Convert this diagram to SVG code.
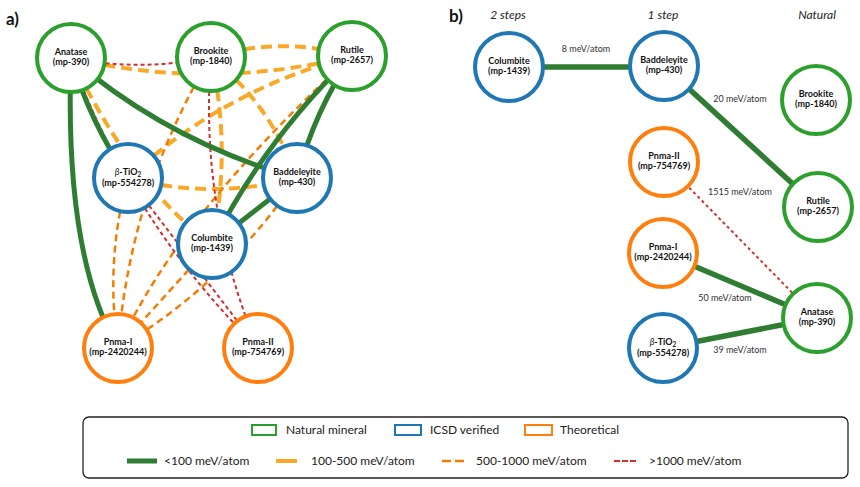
<svg xmlns="http://www.w3.org/2000/svg" width="860" height="487" viewBox="0 0 860 487">
<style>
text{font-family:Lato,"Liberation Sans",sans-serif;fill:#111}
.nl{font-size:9px;font-weight:bold;text-anchor:middle}
.el{font-size:9px;fill:#333;text-anchor:middle}
.hd{font-size:12px;font-style:italic;fill:#222;text-anchor:middle}
.pl{font-size:17px;font-weight:bold}
.lg{font-size:12px;fill:#222}
.nat{fill:#fff;stroke:#2ca02c;stroke-width:4}
.icsd{fill:#fff;stroke:#1f77b4;stroke-width:4}
.theo{fill:#fff;stroke:#ff7f0e;stroke-width:4}
.g{fill:none;stroke:#2e7d32;stroke-width:5}
.gb{fill:none;stroke:#2e7d32;stroke-width:5.5}
.y{fill:none;stroke:#f9a828;stroke-width:4;stroke-dasharray:11 6}
.o{fill:none;stroke:#f57c00;stroke-width:2.5;stroke-dasharray:7 4.5}
.r{fill:none;stroke:#d32f2f;stroke-width:2;stroke-dasharray:4 3}
.rb{fill:none;stroke:#d32f2f;stroke-width:2;stroke-dasharray:3 3}
</style>
<text class="pl" x="6" y="25">a)</text>
<text class="pl" x="449" y="22">b)</text>
<text class="hd" x="508" y="19">2 steps</text>
<text class="hd" x="663" y="19">1 step</text>
<text class="hd" x="817" y="19">Natural</text>
<g id="connectors">
<path class="y" d="M71,58 Q211,91 352,56"/>
<path class="y" d="M211,57 Q281,36 352,56"/>
<path class="y" d="M71,58 Q135,190 212,244"/>
<path class="y" d="M128,178 Q225,89 352,56"/>
<path class="y" d="M211,57 Q271,105 297,178"/>
<path class="y" d="M211,57 Q232,150 212,244"/>
<path class="y" d="M128,178 Q212,200 297,178"/>
<path class="o" d="M211,57 Q130,191 118,348"/>
<path class="o" d="M128,178 Q105,260 118,348"/>
<path class="o" d="M352,56 Q180,212 118,348"/>
<path class="o" d="M212,244 L118,348"/>
<path class="o" d="M297,178 Q227,283 118,348"/>
<path class="r" d="M71,58 Q141,72 211,57"/>
<path class="r" d="M71,58 Q132,224 258,348"/>
<path class="r" d="M128,178 L258,348"/>
<path class="r" d="M211,57 Q199,208 258,348"/>
<path class="g" d="M71,58 Q64,255 118,348"/>
<path class="g" d="M71,58 Q90,122 128,178"/>
<path class="g" d="M71,58 Q171,143 297,178"/>
<path class="g" d="M352,56 Q266,138 212,244"/>
<path class="g" d="M352,56 Q314,112 297,178"/>
<path class="g" d="M297,178 L212,244"/>
<path class="gb" d="M509,67 L664,67"/>
<path class="gb" d="M664,66 L818,207"/>
<path class="rb" d="M664,162 L817,318"/>
<path class="gb" d="M663,253 L817,318"/>
<path class="gb" d="M663,348 L817,318"/>
<text class="el" x="586" y="52">8 meV/atom</text>
<text class="el" x="740" y="102">20 meV/atom</text>
<text class="el" x="740" y="195">1515 meV/atom</text>
<text class="el" x="725" y="301">50 meV/atom</text>
<text class="el" x="740" y="353">39 meV/atom</text>
</g>
<g id="a-anatase"><circle class="nat" cx="71" cy="58" r="34"/><text class="nl" x="71" y="55">Anatase</text><text class="nl" x="71" y="65">(mp-390)</text></g>
<g id="a-brookite"><circle class="nat" cx="211" cy="57" r="34"/><text class="nl" x="211" y="54">Brookite</text><text class="nl" x="211" y="64">(mp-1840)</text></g>
<g id="a-rutile"><circle class="nat" cx="352" cy="56" r="34"/><text class="nl" x="352" y="53">Rutile</text><text class="nl" x="352" y="63">(mp-2657)</text></g>
<g id="a-btio2"><circle class="icsd" cx="128" cy="178" r="34"/><text class="nl" x="128" y="175"><tspan font-style="italic" font-weight="normal">β</tspan>-TiO<tspan font-size="6.5" dy="1.5">2</tspan></text><text class="nl" x="128" y="186">(mp-554278)</text></g>
<g id="a-baddeleyite"><circle class="icsd" cx="297" cy="178" r="34"/><text class="nl" x="297" y="175">Baddeleyite</text><text class="nl" x="297" y="185">(mp-430)</text></g>
<g id="a-columbite"><circle class="icsd" cx="212" cy="244" r="34"/><text class="nl" x="212" y="241">Columbite</text><text class="nl" x="212" y="251">(mp-1439)</text></g>
<g id="a-pnma1"><circle class="theo" cx="118" cy="348" r="34"/><text class="nl" x="118" y="345">Pnma-I</text><text class="nl" x="118" y="355">(mp-2420244)</text></g>
<g id="a-pnma2"><circle class="theo" cx="258" cy="348" r="34"/><text class="nl" x="258" y="345">Pnma-II</text><text class="nl" x="258" y="355">(mp-754769)</text></g>
<g id="b-columbite"><circle class="icsd" cx="509" cy="67" r="34"/><text class="nl" x="509" y="64">Columbite</text><text class="nl" x="509" y="74">(mp-1439)</text></g>
<g id="b-baddeleyite"><circle class="icsd" cx="664" cy="66" r="34"/><text class="nl" x="664" y="63">Baddeleyite</text><text class="nl" x="664" y="73">(mp-430)</text></g>
<g id="b-brookite"><circle class="nat" cx="816" cy="100" r="34"/><text class="nl" x="816" y="97">Brookite</text><text class="nl" x="816" y="107">(mp-1840)</text></g>
<g id="b-pnma2"><circle class="theo" cx="664" cy="162" r="34"/><text class="nl" x="664" y="159">Pnma-II</text><text class="nl" x="664" y="169">(mp-754769)</text></g>
<g id="b-rutile"><circle class="nat" cx="818" cy="207" r="34"/><text class="nl" x="818" y="204">Rutile</text><text class="nl" x="818" y="214">(mp-2657)</text></g>
<g id="b-pnma1"><circle class="theo" cx="663" cy="253" r="34"/><text class="nl" x="663" y="250">Pnma-I</text><text class="nl" x="663" y="260">(mp-2420244)</text></g>
<g id="b-anatase"><circle class="nat" cx="817" cy="318" r="34"/><text class="nl" x="817" y="315">Anatase</text><text class="nl" x="817" y="325">(mp-390)</text></g>
<g id="b-btio2"><circle class="icsd" cx="663" cy="348" r="34"/><text class="nl" x="663" y="345"><tspan font-style="italic" font-weight="normal">β</tspan>-TiO<tspan font-size="6.5" dy="1.5">2</tspan></text><text class="nl" x="663" y="356">(mp-554278)</text></g>
<g id="legend">
<rect x="83" y="417" width="765" height="61" rx="6" fill="#fff" stroke="#222" stroke-width="1.3"/>
<rect x="252" y="425" width="24" height="10" fill="#fff" stroke="#2ca02c" stroke-width="2"/>
<text class="lg" x="286" y="434">Natural mineral</text>
<rect x="395" y="425" width="26" height="10" fill="#fff" stroke="#1f77b4" stroke-width="2"/>
<text class="lg" x="430" y="434">ICSD verified</text>
<rect x="525" y="425" width="27" height="10" fill="#fff" stroke="#ff7f0e" stroke-width="2"/>
<text class="lg" x="560" y="434">Theoretical</text>
<line x1="127" y1="461" x2="157" y2="461" stroke="#2e7d32" stroke-width="5"/>
<text class="lg" x="164" y="465">&lt;100 meV/atom</text>
<line x1="276" y1="461" x2="297" y2="461" stroke="#f9a828" stroke-width="4"/>
<text class="lg" x="311" y="465">100-500 meV/atom</text>
<line x1="442" y1="461" x2="464" y2="461" stroke="#f57c00" stroke-width="2.5" stroke-dasharray="9 4"/>
<text class="lg" x="476" y="465">500-1000 meV/atom</text>
<line x1="614" y1="461" x2="636" y2="461" stroke="#d32f2f" stroke-width="2" stroke-dasharray="6 2"/>
<text class="lg" x="649" y="465">&gt;1000 meV/atom</text>
</g>
</svg>
